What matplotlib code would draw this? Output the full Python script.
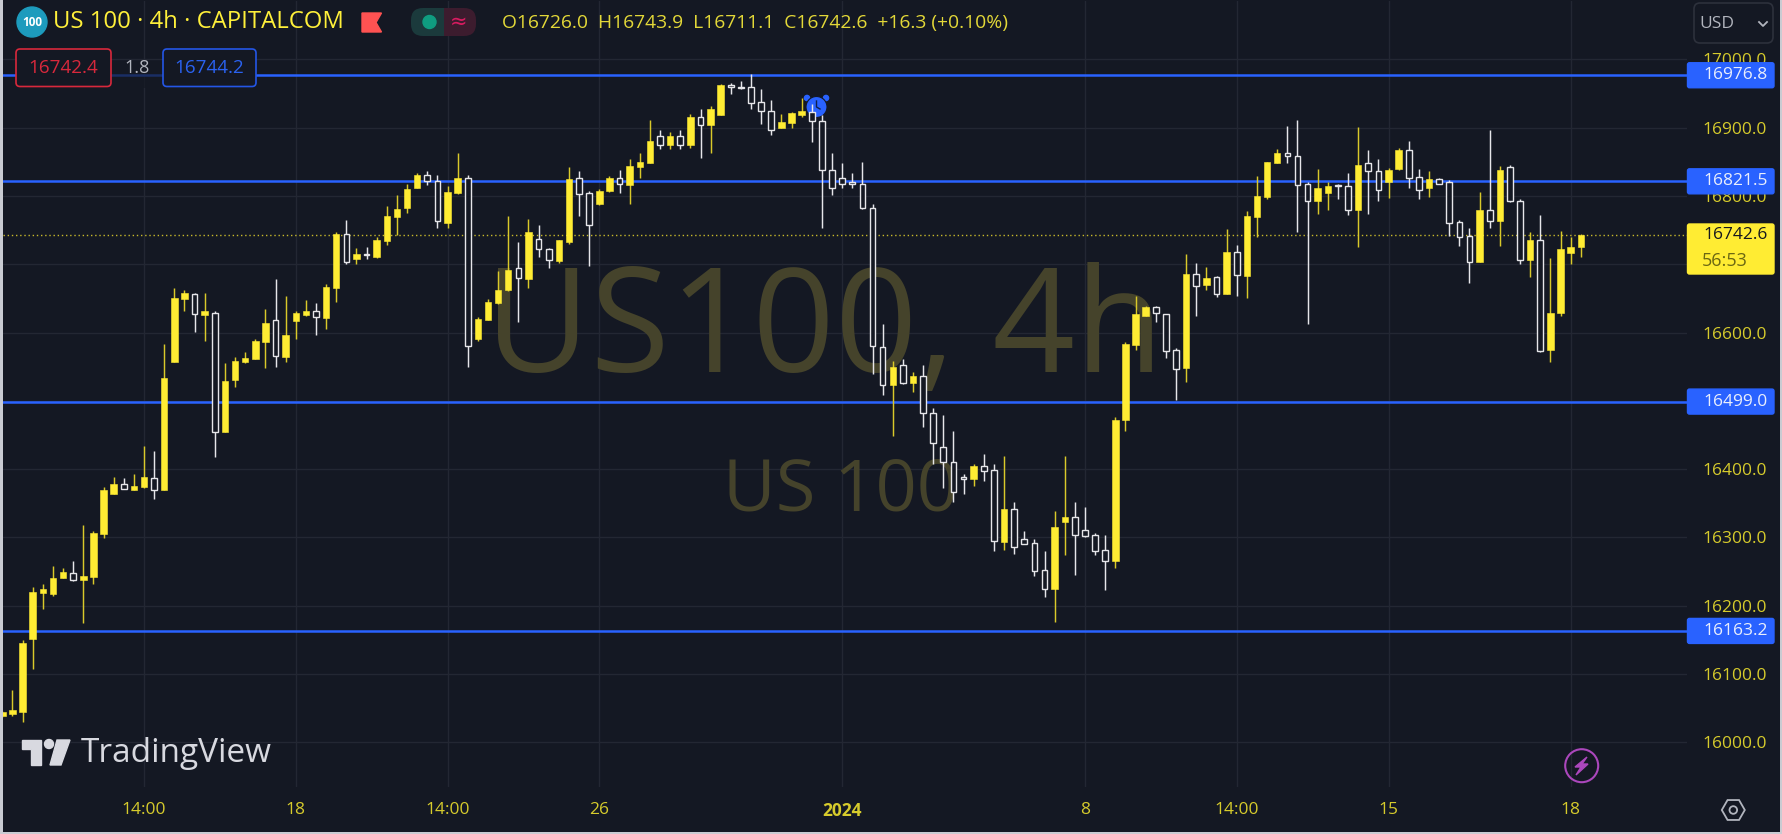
import numpy as np
import matplotlib
matplotlib.use("Agg")
import matplotlib.pyplot as plt
from matplotlib.patches import Rectangle, Circle, FancyBboxPatch, Polygon

plt.rcParams["font.family"] = ["Open Sans", "DejaVu Sans"]

# 4h candles
opens = [16039, 16041, 16044, 16151, 16219, 16217, 16240, 16248, 16238, 16242, 16305, 16364, 16378, 16370, 16374, 16387, 16370,
         16557, 16649, 16657, 16626, 16629, 16455, 16531, 16557, 16562, 16586, 16619, 16565, 16617, 16626, 16631, 16622, 16666, 16745, 16708, 16715,
         16711, 16734, 16769, 16782, 16812, 16831, 16822, 16761, 16805, 16826, 16590, 16618, 16643, 16662, 16694, 16679, 16737, 16723, 16705, 16732, 16826, 16804,
         16788, 16807, 16827, 16816, 16843, 16849, 16888, 16875, 16888, 16874, 16916, 16904, 16919, 16962, 16960, 16960, 16937, 16925, 16900, 16907, 16919, 16923, 16910, 16838, 16826, 16819, 16817, 16783, 16579,
         16524, 16553, 16526, 16536, 16483, 16433, 16410, 16388, 16386, 16405, 16399, 16293, 16342, 16298, 16292, 16252, 16224, 16322, 16330, 16311, 16304, 16281, 16265, 16472,
         16582, 16624, 16638, 16627, 16574,
         16548, 16686, 16670, 16682, 16656, 16718, 16683, 16769, 16799, 16849, 16863, 16859, 16817, 16792, 16805, 16816, 16815, 16780, 16848, 16836, 16820, 16839, 16867, 16828, 16811, 16825, 16821, 16762, 16741, 16704, 16779, 16763, 16842, 16793, 16706, 16735, 16575, 16628, 16716, 16726.0]
highs = [16046, 16076, 16150, 16228, 16232, 16259, 16255, 16266, 16319, 16310, 16374, 16388, 16387, 16393, 16434, 16426, 16584,
         16665, 16663, 16658, 16658, 16631, 16556, 16565, 16571, 16590, 16635, 16679, 16654, 16631, 16647, 16643, 16671, 16747, 16765, 16724, 16726,
         16740, 16785, 16802, 16817, 16834, 16836, 16831, 16814, 16863, 16831, 16623, 16649, 16690, 16770, 16732, 16766, 16758, 16724, 16736, 16842, 16836, 16807,
         16810, 16830, 16838, 16854, 16863, 16911, 16896, 16894, 16896, 16920, 16928, 16932, 16964, 16965, 16968, 16978, 16957, 16941, 16920, 16923, 16943, 16934, 16919, 16863, 16849, 16833, 16850, 16789, 16612,
         16559, 16561, 16542, 16553, 16490, 16479, 16456, 16393, 16407, 16422, 16408, 16420, 16352, 16310, 16298, 16280, 16339, 16420, 16352, 16344, 16306, 16304, 16477, 16586,
         16653, 16639, 16639, 16627, 16578,
         16715, 16702, 16696, 16683, 16751, 16728, 16778, 16829, 16850, 16869, 16903, 16911, 16821, 16840, 16821, 16818, 16834, 16901, 16867, 16854, 16841, 16871, 16880, 16839, 16836, 16827, 16823, 16765, 16753, 16806, 16896, 16844, 16846, 16795, 16747, 16772, 16709, 16749, 16740, 16743.9]
lows = [16037, 16039, 16030, 16107, 16196, 16215, 16240, 16236, 16175, 16232, 16299, 16363, 16371, 16369, 16373, 16356, 16369,
        16557, 16631, 16601, 16588, 16418, 16455, 16521, 16556, 16561, 16548, 16549, 16557, 16590, 16624, 16597, 16605, 16645, 16700, 16700, 16708,
        16709, 16728, 16743, 16775, 16811, 16816, 16753, 16753, 16803, 16550, 16588, 16618, 16642, 16661, 16616, 16666, 16711, 16695, 16702, 16730, 16771, 16698,
        16787, 16806, 16805, 16788, 16826, 16848, 16869, 16869, 16869, 16871, 16856, 16863, 16918, 16949, 16956, 16928, 16905, 16890, 16899, 16899, 16915, 16879, 16753, 16801, 16812, 16812, 16781, 16539, 16509,
        16448, 16525, 16513, 16462, 16407, 16373, 16352, 16363, 16376, 16382, 16280, 16282, 16276, 16291, 16244, 16213, 16176, 16274, 16245, 16301, 16275, 16223, 16255, 16456,
        16574, 16624, 16616, 16563, 16502,
        16527, 16624, 16662, 16652, 16656, 16654, 16651, 16740, 16795, 16849, 16849, 16748, 16613, 16774, 16780, 16795, 16772, 16725, 16774, 16792, 16797, 16838, 16812, 16795, 16799, 16818, 16741, 16727, 16673, 16703, 16753, 16727, 16791, 16700, 16681, 16572, 16557, 16624, 16700, 16711.1]
closes = [16045, 16047, 16146, 16220, 16224, 16241, 16249, 16238, 16243, 16306, 16369, 16378, 16371, 16376, 16388, 16369, 16534,
          16650, 16658, 16627, 16631, 16455, 16529, 16558, 16563, 16588, 16614, 16566, 16597, 16628, 16631, 16623, 16667, 16745, 16704, 16715, 16713,
          16735, 16770, 16781, 16810, 16831, 16822, 16763, 16806, 16827, 16581, 16620, 16645, 16663, 16692, 16680, 16747, 16722, 16706, 16735, 16825, 16803, 16757,
          16808, 16827, 16817, 16844, 16850, 16880, 16875, 16888, 16875, 16916, 16904, 16928, 16962, 16960, 16958, 16936, 16925, 16896, 16909, 16922, 16924, 16910, 16838, 16811, 16818, 16818, 16782, 16581, 16524,
          16550, 16526, 16536, 16482, 16438, 16410, 16366, 16386, 16405, 16398, 16295, 16342, 16286, 16291, 16251, 16224, 16316, 16330, 16303, 16302, 16280, 16265, 16472, 16584,
          16627, 16638, 16628, 16573, 16546,
          16686, 16668, 16680, 16656, 16718, 16685, 16770, 16800, 16850, 16863, 16858, 16816, 16792, 16812, 16815, 16814, 16780, 16846, 16837, 16809, 16838, 16867, 16826, 16809, 16825, 16818, 16761, 16740, 16704, 16779, 16763, 16838, 16792, 16706, 16735, 16573, 16629, 16722, 16726, 16742.6]

levels = [16976.8, 16821.5, 16499.0, 16163.2]
last_price = 16742.6
price_ticks = [16000, 16100, 16200, 16300, 16400, 16500, 16600, 16700, 16800, 16900, 17000]
hidden_ticks = [16500, 16700]  # these sit right under the price labels
time_ticks = [14, 29, 44, 59, 83, 107, 122, 137, 155]
time_labels = ["14:00", "18", "14:00", "26", "2024", "8", "14:00", "15", "18"]

W, H = 1783, 834
BG = "#141823"
YEL = "#ffec33"
WICK_Y = "#d9c92a"
WHT = "#e6e6ea"
BLUE = "#2962ff"
AXTXT = "#d6cb2c"
WM = "#45432b"

fig = plt.figure(figsize=(W / 100, H / 100), dpi=100, facecolor="#c9cbd2")


def box(x0, y0, x1, y1):
    return [x0 / W, 1 - y1 / H, (x1 - x0) / W, (y1 - y0) / H]


# background of the whole widget
back = fig.add_axes(box(2.5, 0, 1780, 832))
back.set_facecolor(BG)
back.set_xticks([])
back.set_yticks([])
for s in back.spines.values():
    s.set_visible(False)

ax = fig.add_axes(box(3, 1, 1687, 787))
ax.patch.set_alpha(0)
ov = fig.add_axes([0, 0, 1, 1], zorder=5)
ov.set_xlim(0, W)
ov.set_ylim(H, 0)
ov.axis("off")

x = np.arange(len(opens))
o = np.array(opens)
c = np.array(closes)
hi = np.array(highs)
lo = np.array(lows)
up = c >= o

ax.set_xlim(0.063, 166.5)
ax.set_ylim(15934.7, 17085.5)
ax.set_xticks(time_ticks)
ax.set_xticklabels(time_labels)
ax.set_yticks(price_ticks)
ax.set_yticklabels(["" if p in hidden_ticks else "%.1f" % p for p in price_ticks], ha="right")
ax.yaxis.tick_right()
ax.tick_params(axis="y", length=0, pad=57.5, labelsize=12.5, labelcolor=AXTXT)
ax.tick_params(axis="x", length=0, pad=11, labelsize=12.5, labelcolor=AXTXT)
ax.get_xticklabels()[4].set_fontweight("bold")
ax.grid(True, color="#232733", lw=1)
ax.set_axisbelow(True)
for s in ax.spines.values():
    s.set_visible(False)

# watermark
ax.text(824, 372, "US100, 4h", transform=ov.transData, ha="center", va="baseline", fontsize=104, color=WM, zorder=1)
ax.text(841, 510, "US 100", transform=ov.transData, ha="center", va="baseline", fontsize=52, color=WM, zorder=1)

for lv in levels:
    ax.axhline(lv, color=BLUE, lw=1.8, zorder=2)
ax.axhline(last_price, color="#c7b82b", lw=1.0, ls=(0, (1, 2)), zorder=2)

# alarm marker
ax.add_patch(Circle((807, 98), 2.6, transform=ov.transData, color=BLUE, zorder=2.4))
ax.add_patch(Circle((826, 98), 2.6, transform=ov.transData, color=BLUE, zorder=2.4))
ax.add_patch(Circle((816.5, 107), 10.5, transform=ov.transData, fc=BLUE, ec=BG, lw=0.8, zorder=2.5))
ax.plot([816.5, 816.5, 820], [101, 107, 109], transform=ov.transData, color="#10204a", lw=1, zorder=2.6)

ax.vlines(x[up], lo[up], hi[up], color=WICK_Y, lw=1.05, zorder=3)
ax.vlines(x[~up], lo[~up], hi[~up], color=WHT, lw=1.05, zorder=3)
ax.bar(x[up], np.maximum(c[up] - o[up], 2), bottom=o[up], width=0.64, color=YEL, edgecolor=YEL, lw=0.4, zorder=4)
ax.bar(x[~up], np.maximum(o[~up] - c[~up], 2), bottom=c[~up], width=0.56, color=BG, edgecolor=WHT, lw=1.0, zorder=4)


def py(p):
    return H - ax.transData.transform((0, p))[1]


# price labels on the axis
for lv in levels:
    y = py(lv)
    ov.add_patch(FancyBboxPatch((1687.5, y - 12.5), 86.5, 25, boxstyle="round,pad=0,rounding_size=2", fc=BLUE, ec=BLUE, lw=1))
    ov.text(1768, y, "%.1f" % lv, ha="right", va="center", fontsize=12.5, color="#e9eefc")
y = py(last_price)
ov.add_patch(FancyBboxPatch((1687.5, 224), 86.5, 50, boxstyle="round,pad=0,rounding_size=2", fc=YEL, ec=YEL, lw=1))
ov.text(1768, y, "16742.6", ha="right", va="center", fontsize=12.5, color="#15181f")
ov.text(1702, 260.5, "56:53", ha="left", va="center", fontsize=13, color="#6b6713")

# header
ov.add_patch(Circle((32, 22), 15, color="#1d9bbd"))
ov.text(32, 22.5, "100", ha="center", va="center", fontsize=8.5, fontweight="bold", color="white")
ov.text(53, 22, "US 100 · 4h · CAPITALCOM", ha="left", va="center", fontsize=17.2, color="#fff03a")
ov.add_patch(Polygon([(362, 13), (381.5, 13), (376, 22.5), (381.5, 32), (362, 32)], closed=True, color="#ff5252"))
ov.add_patch(FancyBboxPatch((411, 8), 33, 28, boxstyle="round,pad=0,rounding_size=12", fc="#1b3a3c", ec="none"))
ov.add_patch(FancyBboxPatch((444, 8), 32, 28, boxstyle="round,pad=0,rounding_size=12", fc="#3c1c2e", ec="none"))
ov.add_patch(Rectangle((432, 8), 12, 28, fc="#1b3a3c", ec="none"))
ov.add_patch(Rectangle((444, 8), 12, 28, fc="#3c1c2e", ec="none"))
ov.add_patch(Circle((429.5, 22), 6.5, color="#0f9d80"))
ov.text(459, 22, "≈", ha="center", va="center", fontsize=15, color="#d81b60", family="DejaVu Sans")
ov.text(502, 23, "O16726.0  H16743.9  L16711.1  C16742.6  +16.3 (+0.10%)", ha="left", va="center", fontsize=13.9, color="#e3d838")

# bid / ask boxes
ov.add_patch(Rectangle((111, 66), 52, 22, fc=BG, ec="none", alpha=0.7))
ov.add_patch(FancyBboxPatch((16, 49), 95, 37.5, boxstyle="round,pad=0,rounding_size=4", fc=BG, ec="#d8283c", lw=1.2))
ov.add_patch(FancyBboxPatch((163, 49), 93, 37.5, boxstyle="round,pad=0,rounding_size=4", fc=BG, ec="#2456e6", lw=1.2))
ov.text(63.5, 68, "16742.4", ha="center", va="center", fontsize=13.6, color="#d8283c")
ov.text(137.5, 68, "1.8", ha="center", va="center", fontsize=13, color="#b2b5be")
ov.text(209.5, 68, "16744.2", ha="center", va="center", fontsize=13.6, color="#2a62f0")

# USD box
ov.add_patch(FancyBboxPatch((1694, 3), 79, 40, boxstyle="round,pad=0,rounding_size=6", fc=BG, ec="#2d313c", lw=1.2))
ov.text(1699, 24, "USD", ha="left", va="center", fontsize=12.5, color="#b2b5be")
ov.plot([1759, 1763, 1767], [22, 26, 22], color="#b2b5be", lw=1.3)

# TradingView logo
LOGO = "#d8d9e0"
ov.add_patch(Polygon([(22, 740), (41, 740), (41, 765), (31, 765), (31, 749), (22, 749)], closed=True, color=LOGO))
ov.add_patch(Circle((49, 744), 4.5, color=LOGO))
ov.add_patch(Polygon([(57, 740), (70, 740), (61, 765), (50, 765)], closed=True, color=LOGO))
ov.text(81, 753, "TradingView", ha="left", va="center", fontsize=24, fontweight="medium", color=LOGO)

# lightning + settings icons
ov.add_patch(Circle((1581.7, 765.7), 16.5, fc="none", ec="#ab47bc", lw=1.5))
ov.add_patch(Polygon([(1587, 757), (1575, 767), (1581, 767), (1576, 775), (1588, 764), (1582, 764)], closed=True, color="#ab47bc"))
a = np.radians(np.arange(0, 360, 60))
ov.add_patch(Polygon(np.c_[1733.3 + 11.5 * np.cos(a), 810 + 11.5 * np.sin(a)], closed=True, fc="none", ec="#b2b5be", lw=1.3))
ov.add_patch(Circle((1733.3, 810), 3.8, fc="none", ec="#b2b5be", lw=1.3))

fig.savefig("out.png", dpi=100, facecolor=fig.get_facecolor())
